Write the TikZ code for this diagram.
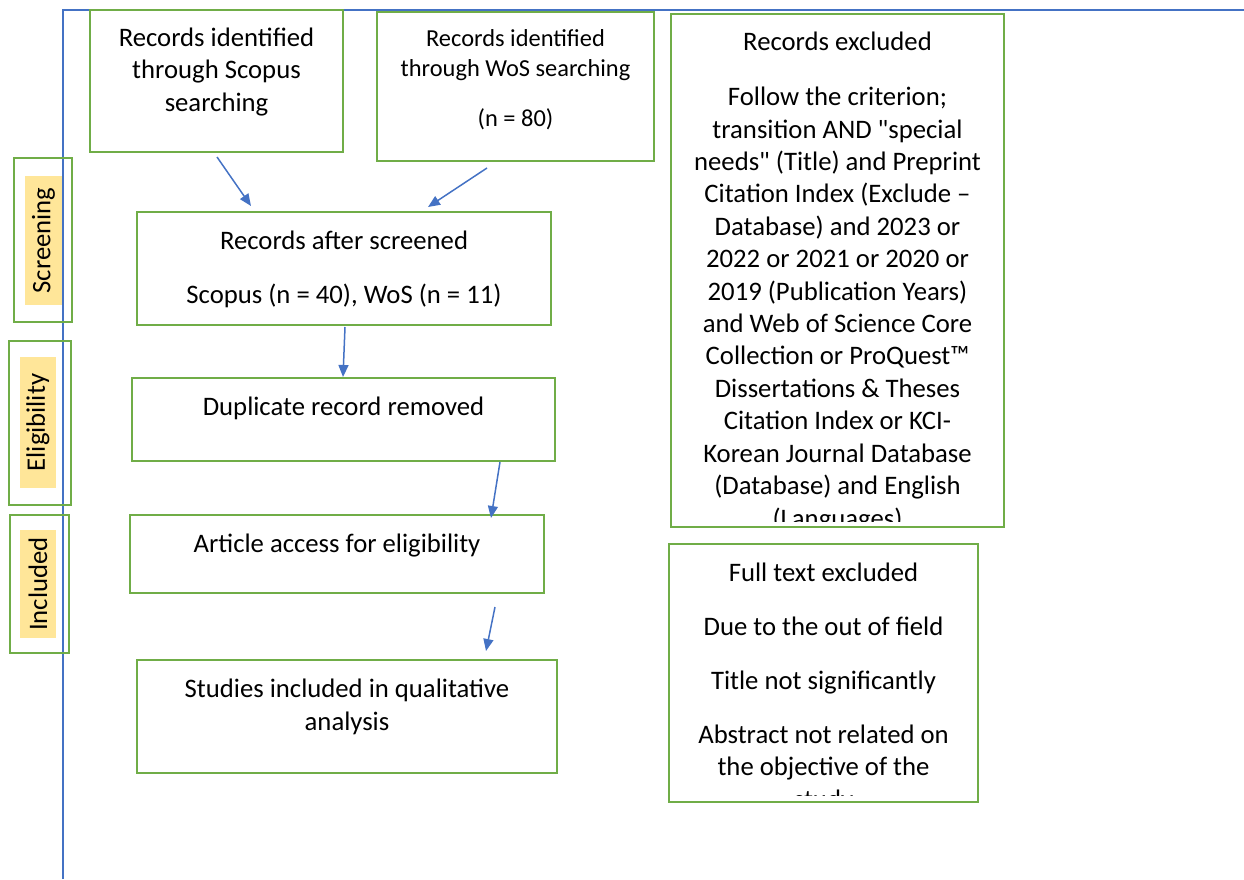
\documentclass[tikz,border=0pt]{standalone}
\usepackage{fontspec}
\setmainfont{Carlito}[Ligatures=TeXOff]
\usepackage{tikz}
\usetikzlibrary{arrows.meta,fit}
\definecolor{boxgreen}{RGB}{112,173,71}
\definecolor{lineblue}{RGB}{68,114,196}
\definecolor{tagfill}{RGB}{255,230,153}
\tikzstyle{box}=[draw=boxgreen, line width=1.1pt, inner sep=0pt]
\tikzstyle{txt}=[align=center, inner sep=0pt, anchor=base, font=\fontsize{15.2}{18.3}\selectfont]
\tikzstyle{small txt}=[align=center, inner sep=0pt, anchor=base, font=\fontsize{13.9}{16.9}\selectfont]
\tikzstyle{tag}=[fill=tagfill, rotate=90, inner sep=0pt, font=\fontsize{15.2}{18.3}\selectfont]
\tikzstyle{flow}=[draw=lineblue, line width=0.85pt, -{Triangle[length=0.24cm, width=0.2cm]}]

\begin{document}
\begin{tikzpicture}[x=0.02cm, y=-0.02cm]
\useasboundingbox (0,0) rectangle (1244,879);
% page frame
\draw[lineblue, line width=0.6pt] (63,879) -- (63,10) -- (1244,10);
% side labels
\node[box, fit={(14,158) (72,322)}] (screenbox) {};
\node[tag, minimum width=2.58cm, minimum height=0.74cm] (screening) at (43.5,240.5) {Screening};
\node[box, fit={(9,341) (71,505)}] (eligbox) {};
\node[tag, minimum width=2.62cm, minimum height=0.72cm] (eligibility) at (38,422.5) {Eligibility};
\node[box, fit={(10,515) (69,653)}] (inclbox) {};
\node[tag, minimum width=2.16cm, minimum height=0.72cm] (included) at (38,584) {Included};
% identification (base = last line)
\node[box, fit={(90,10) (343,152)}] (scopus) {};
\node[txt] (scopustxt) at (216.5,111) {Records identified\\through Scopus\\searching};
\node[box, fit={(377,12) (654,161)}] (wos) {};
\node[small txt] (wostxt) at (515.5,76) {Records identified\\through WoS searching};
\node[small txt] (wosn) at (515.5,126) {(n = 80)};
% flow boxes
\node[box, fit={(137,212) (551,325)}] (screened) {};
\node[txt] (screenedtxt) at (344,249) {Records after screened};
\node[txt] (screenedn) at (344,303) {Scopus (n = 40), WoS (n = 11)};
\node[box, fit={(132,378) (555,461)}] (duplicate) {};
\node[txt] (duplicatetxt) at (343.5,415) {Duplicate record removed};
\node[box, fit={(130,515) (544,593)}] (access) {};
\node[txt] (accesstxt) at (337,552) {Article access for eligibility};
\node[box, fit={(137,660) (557,773)}] (studies) {};
\node[txt] (studiestxt) at (347,730) {Studies included in qualitative\\analysis};
% exclusions
\node[txt] (excltitle) at (837.5,51) {Records excluded};
\begin{scope}
\clip (671,14) rectangle (1004,521);
\node[txt, font=\fontsize{15.2}{18.45}\selectfont] (exclbody) at (837.5,527) {Follow the criterion;\\transition AND "special\\needs" (Title) and Preprint\\Citation Index (Exclude –\\Database) and 2023 or\\2022 or 2021 or 2020 or\\2019 (Publication Years)\\and Web of Science Core\\Collection or ProQuest™\\Dissertations \& Theses\\Citation Index or KCI-\\Korean Journal Database\\(Database) and English\\(Languages)};
\end{scope}
\node[box, fit={(671,14) (1004,527)}] (excluded) {};
\node[txt] (fulltitle) at (823.5,581) {Full text excluded};
\node[txt] (fieldtxt) at (823.5,635) {Due to the out of field};
\node[txt] (titletxt) at (823.5,689) {Title not significantly};
\begin{scope}
\clip (669,544) rectangle (978,795);
\node[txt] (abstracttxt) at (823.5,808) {Abstract not related on\\the objective of the\\study};
\end{scope}
\node[box, fit={(669,544) (978,802)}] (fulltext) {};
% arrows
\coordinate (a1) at (217,157);
\coordinate (a2) at (251,206);
\coordinate (b1) at (487,168);
\coordinate (b2) at (428,207);
\coordinate (c1) at (345,327);
\coordinate (c2) at (343,377);
\coordinate (d1) at (500,462);
\coordinate (d2) at (491,518);
\coordinate (e1) at (495,607);
\coordinate (e2) at (486,651);
\draw[flow] (a1) -- (a2);
\draw[flow] (b1) -- (b2);
\draw[flow] (c1) -- (c2);
\draw[flow] (d1) -- (d2);
\draw[flow] (e1) -- (e2);
\end{tikzpicture}
\end{document}
